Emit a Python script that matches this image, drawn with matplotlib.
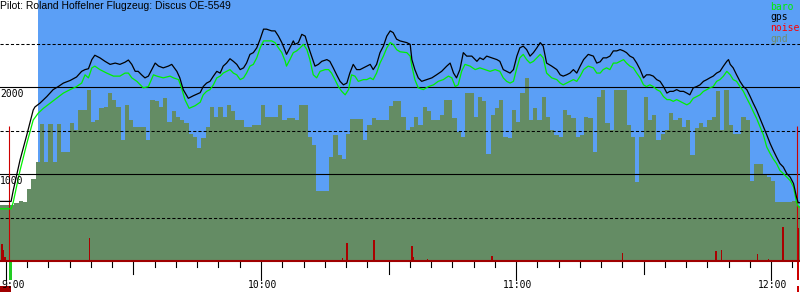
import matplotlib
matplotlib.use("Agg")
import matplotlib.pyplot as plt
import matplotlib.transforms as mtransforms
from matplotlib.patches import Rectangle
import numpy as np

title = "Pilot: Roland Hoffelner Flugzeug: Discus OE-5549"

# all times in minutes after 9:00, altitudes in m
gps_t = [-2, 1.2, 1.7, 3.3, 4.9, 6.4, 6.8, 8.0, 9.6, 11.1, 12.3, 13.5, 15.1, 16.6, 17.8, 18.6, 19.4,
         20.2, 20.9, 22.1, 23.3, 24.5, 25.7, 26.8, 28.0, 28.8, 29.6, 30.4, 31.1, 31.9, 32.7, 33.5,
         34.3, 35.1, 35.9, 37.0, 38.2, 39.0, 40.2, 40.9, 41.7, 42.9, 44.1, 45.7, 46.4, 47.2, 48.0,
         48.8, 49.6, 50.4, 51.1, 51.9, 52.7, 53.5, 54.3, 55.1, 55.9, 56.6, 57.4, 58.2, 59.0, 59.8,
         60.6, 61.3, 62.5, 63.3, 64.1, 64.9, 65.7, 66.0, 66.8, 67.6, 68.0, 68.8, 69.6, 70.4, 71.1,
         71.9, 72.7, 73.5, 74.3, 75.5, 76.2, 77.0, 77.8, 78.6, 79.4, 80.2, 80.9, 81.7, 82.5, 83.3,
         84.1, 84.9, 85.7, 86.4, 87.2, 88.0, 88.8, 89.6, 90.4, 91.1, 91.9, 92.7, 94.3, 95.1, 95.5,
         96.2, 97.0, 97.8, 99.0, 100.2, 101.3, 102.5, 103.7, 104.5, 105.3, 106.0, 106.8, 107.6,
         108.4, 109.6, 110.8, 111.5, 112.3, 113.1, 114.3, 115.5, 116.2, 117.0, 117.8, 118.6, 119.4,
         120.2, 120.9, 121.7, 122.5, 123.3, 124.1, 124.9, 125.7, 126.4, 127.2, 128.4, 129.6, 130.4,
         131.1, 131.9, 132.7, 133.5, 134.3, 135.1, 135.9, 137.0, 138.2, 139.0, 139.8, 140.5, 141.3,
         142.1, 142.9, 143.7, 144.5, 145.3, 146.0, 146.8, 147.6, 148.4, 149.2, 150.0, 150.7, 151.5,
         152.3, 153.1, 153.9, 154.7, 155.5, 156.2, 157.0, 157.8, 158.6, 159.4, 160.2, 160.9, 161.7,
         162.5, 163.3, 164.1, 164.9, 165.6, 166.4, 167.2, 168.0, 168.8, 169.6, 170.0, 170.4, 171.1,
         171.9, 172.7, 173.5, 174.3, 175.1, 175.8, 176.6, 177.4, 178.2, 179.0, 179.8, 180.5, 181.3,
         182.1, 182.9, 183.7, 184.5, 185.3, 186.0, 186.4, 188]
gps_alt = [685, 685, 810, 1160, 1450, 1735, 1770, 1815, 1890, 1970, 2005, 2045, 2075, 2115, 2180, 2200, 2210,
           2315, 2365, 2335, 2295, 2260, 2275, 2260, 2285, 2310, 2260, 2180, 2180, 2140, 2105, 2125,
           2200, 2275, 2240, 2220, 2240, 2260, 2180, 2105, 1970, 1870, 1900, 1935, 2005, 2045, 2065,
           2125, 2180, 2160, 2240, 2275, 2325, 2295, 2260, 2200, 2220, 2275, 2375, 2395, 2450, 2550,
           2665, 2665, 2645, 2645, 2585, 2510, 2415, 2375, 2450, 2530, 2490, 2510, 2605, 2585, 2470,
           2355, 2240, 2260, 2295, 2315, 2295, 2220, 2140, 2065, 2025, 2045, 2160, 2260, 2200, 2200,
           2220, 2240, 2260, 2200, 2260, 2395, 2470, 2585, 2645, 2625, 2550, 2530, 2510, 2490, 2315,
           2200, 2105, 2065, 2085, 2105, 2140, 2180, 2240, 2275, 2160, 2105, 2200, 2395,
           2355, 2355, 2295, 2335, 2315, 2355, 2335, 2315, 2295, 2200, 2180, 2160, 2200,
           2355, 2450, 2470, 2430, 2355, 2395, 2450, 2510, 2470, 2275, 2240, 2200, 2140,
           2125, 2140, 2160, 2200, 2160, 2240, 2315, 2375, 2355, 2275, 2290, 2335, 2335,
           2355, 2415, 2415, 2430, 2415, 2395, 2355, 2335, 2275, 2200, 2105, 2140, 2140,
           2125, 2085, 2065, 2005, 1930, 1950, 1950, 1970, 1950, 1950, 1930, 1910, 1990,
           2005, 2025, 2065, 2085, 2105, 2125, 2160, 2180, 2240, 2295, 2315, 2260, 2220,
           2140, 2065, 2005, 1970, 1890, 1815, 1735, 1640, 1545, 1450, 1350, 1275, 1195,
           1120, 1080, 1005, 965, 890, 735, 670, 670]

baro_t = [-2, 1.2, 1.7, 3.3, 4.9, 6.4, 7.6, 8.8, 10.4, 11.9, 13.5, 15.1, 16.6, 17.8, 18.6, 19.4, 20.2,
          20.9, 22.1, 23.7, 25.3, 26.8, 28.0, 28.8, 29.6, 30.8, 32.3, 33.5, 34.7, 35.5, 37.0, 38.6,
          39.4, 40.6, 41.3, 42.1, 43.1, 44.5, 45.7, 46.4, 47.2, 48.0, 48.8, 49.6, 50.4, 51.1, 51.9,
          52.7, 53.5, 54.3, 55.1, 55.9, 56.6, 57.4, 58.2, 59.0, 59.8, 60.6, 61.3, 62.5, 63.3, 64.1,
          64.9, 65.7, 66.0, 66.8, 67.6, 68.4, 69.2, 70.0, 70.8, 71.5, 72.3, 73.1, 73.9, 75.1, 75.9,
          76.6, 77.4, 78.2, 79.0, 79.8, 80.6, 81.3, 82.1, 82.9, 84.1, 84.9, 85.7, 86.4, 87.2, 88.0,
          88.8, 89.6, 90.4, 91.1, 91.9, 92.7, 94.3, 95.1, 95.5, 96.2, 97.0, 98.2, 99.4, 100.6, 101.7,
          102.9, 104.1, 104.9, 105.7, 106.4, 107.2, 108.0, 109.2, 110.4, 111.5, 112.7, 113.9, 115.1,
          116.2, 117.0, 117.8, 118.6, 119.4, 120.2, 120.9, 121.7, 122.5, 123.3, 124.1, 124.9, 125.7,
          126.4, 127.2, 128.4, 129.6, 130.4, 131.1, 131.9, 132.7, 133.5, 134.3, 135.1, 135.9, 137.0,
          138.2, 139.0, 139.8, 140.5, 141.3, 142.1, 142.9, 143.7, 144.5, 145.3, 146.0, 146.8, 147.6,
          148.4, 149.2, 150.0, 150.7, 151.5, 152.3, 153.1, 153.9, 154.7, 155.5, 156.2, 157.0, 157.8,
          158.6, 159.4, 160.2, 160.9, 161.7, 162.5, 163.3, 164.1, 164.9, 165.6, 166.4, 167.2, 168.0,
          168.8, 169.6, 170.4, 171.1, 171.9, 172.7, 173.5, 174.3, 175.1, 175.8, 176.6, 177.4, 178.2,
          179.0, 179.8, 180.5, 181.3, 182.1, 182.9, 183.7, 184.5, 185.3, 186.0, 186.5, 188]
baro_alt = [600, 600, 675, 1040, 1350, 1620, 1700, 1755, 1815, 1870, 1930, 1970, 2005, 2045, 2140, 2105, 2220,
            2240, 2200, 2160, 2125, 2125, 2160, 2160, 2105, 2065, 1990, 2005, 2140, 2125, 2105, 2125,
            2105, 2085, 1990, 1855, 1755, 1785, 1825, 1910, 1950, 1970, 2025, 2105, 2125, 2160, 2180,
            2200, 2160, 2140, 2085, 2105, 2160, 2240, 2260, 2335, 2450, 2530, 2530, 2530, 2510, 2450,
            2395, 2295, 2240, 2315, 2395, 2415, 2450, 2490, 2430, 2315, 2140, 2105, 2180, 2200, 2200,
            2160, 2085, 2005, 1950, 1910, 1970, 2140, 2125, 2065, 2085, 2085, 2105, 2085, 2160, 2275,
            2355, 2450, 2510, 2490, 2430, 2405, 2395, 2355, 2240, 2085, 1990, 1970, 2005, 2025, 2065,
            2085, 2125, 2105, 2005, 2025, 2180, 2260, 2240, 2200, 2220, 2200, 2180, 2200,
            2180, 2105, 2065, 2045, 2065, 2220, 2335, 2375, 2315, 2275, 2295, 2335, 2375,
            2335, 2160, 2105, 2085, 2045, 2025, 2045, 2065, 2085, 2065, 2125, 2200, 2240,
            2220, 2160, 2160, 2200, 2220, 2200, 2275, 2275, 2295, 2315, 2275, 2240, 2220,
            2160, 2105, 2025, 2005, 2025, 2005, 1970, 1950, 1890, 1855, 1855, 1835, 1855,
            1835, 1815, 1795, 1815, 1870, 1890, 1910, 1950, 1970, 1990, 2005, 2065, 2085,
            2125, 2180, 2140, 2085, 2065, 2005, 1950, 1870, 1795, 1720, 1640, 1545, 1450,
            1310, 1235, 1175, 1120, 1040, 1005, 965, 925, 850, 675, 620, 620]

# ground elevation, one value per minute starting at minute -2
gnd_first_minute = -2
gnd_alt = [645, 645, 645, 645, 665, 695, 675, 830, 945, 1140,
           1575, 1140, 1575, 1140, 1575, 1255, 1255, 1585, 1505, 1735,
           1735, 1970, 1600, 1620, 1755, 1775, 1930, 1855, 1775, 1390,
           1795, 1620, 1545, 1545, 1545, 1390, 1855, 1835, 1775, 1870,
           1600, 1720, 1660, 1620, 1585, 1465, 1430, 1295, 1410, 1545,
           1775, 1660, 1775, 1660, 1795, 1720, 1620, 1620, 1545, 1545,
           1565, 1565, 1795, 1660, 1660, 1660, 1795, 1620, 1640, 1640,
           1620, 1795, 1795, 1430, 1330, 805, 805, 805, 1195, 1450,
           1215, 1175, 1465, 1630, 1630, 1630, 1390, 1565, 1640, 1620,
           1620, 1620, 1785, 1835, 1835, 1660, 1505, 1545, 1660, 1565,
           1775, 1720, 1620, 1620, 1680, 1855, 1855, 1640, 1485, 1430,
           1930, 1930, 1660, 1890, 1835, 1235, 1680, 1755, 1855, 1430,
           1410, 1735, 1600, 1930, 2105, 1620, 1755, 1620, 1890, 1660,
           1505, 1450, 1430, 1735, 1680, 1640, 1430, 1450, 1660, 1640,
           1255, 1890, 1970, 1585, 1505, 1970, 1970, 1970, 1565, 1430,
           905, 1430, 1890, 1620, 1680, 1390, 1465, 1505, 1700, 1620,
           1640, 1545, 1620, 1215, 1525, 1585, 1545, 1620, 1660, 1950,
           1505, 1970, 1565, 1465, 1465, 1660, 1620, 925, 1120, 1120,
           1005, 965, 925, 675, 675, 675, 675, 695, 635, 635]

noise_t = [-0.9, -0.6, -0.2, 19.6, 79.2, 80.2, 86.6, 95.5, 95.8, 99.2, 114.3, 145.1, 153.5,
           167.0, 168.4, 176.8, 179.4, 182.8, 186.4]
noise_val = [200, 125, 45, 270, 40, 210, 245, 175, 45, 25, 60, 95, 15, 115, 125, 85, 25, 395, 375]

takeoff_t = 0.7
landing_t = 186.2
marker_top = 1550
sky_start = 7.5
hour_labels = ["9:00", "10:00", "11:00", "12:00"]
legend_names = ["baro", "gps", "noise", "gnd"]

SKY = "#5b9ff6"
GND = "#648c64"
BARO = "#00f000"
NOISE = "#aa0000"
AXRED = "#a00000"
legend_colors = ["#00ee00", "black", "#ff0000", "#6f8f6f"]

W, H = 800, 300
x0, x1 = -1.41, 186.82

fig = plt.figure(figsize=(8, 3), dpi=100)
ax = fig.add_axes([0, 39 / H, 1, 261 / H])
ax.set_xlim(x0, x1)
ax.set_ylim(0, 3000)
for s in ax.spines.values():
    s.set_visible(False)
ax.set_xticks([])
ax.set_yticks([])

ax.axvspan(sky_start, x1 + 5, color=SKY, lw=0, zorder=0)

gnd_t = gnd_first_minute + np.arange(len(gnd_alt))
ax.fill_between(gnd_t, gnd_alt, step="post", color=GND, lw=0, zorder=1)

for v in [500, 1500, 2500]:
    ax.axhline(v, color="black", lw=0.75, ls=(0, (3, 2)), zorder=2)
for v in [1000, 2000]:
    ax.axhline(v, color="black", lw=0.8, zorder=2)

ax.bar(noise_t, noise_val, width=0.35, color=NOISE, lw=0, zorder=3)
ax.vlines([takeoff_t, landing_t], 0, marker_top, color="#cc0000", lw=0.8, zorder=3)

ax.plot(baro_t, baro_alt, color=BARO, lw=0.9, zorder=4)
ax.plot(gps_t, gps_alt, color="black", lw=0.9, zorder=5)

ax.axhline(0, color=AXRED, lw=1.5, clip_on=False, zorder=6)

# time ticks below the axis
trans = mtransforms.blended_transform_factory(ax.transData, fig.transFigure)
for m in range(0, 186, 5):
    length = 18 if m % 60 == 0 else (12 if m % 30 == 0 else 5)
    ax.plot([m, m], [(H - 262) / H, (H - 262 - length) / H], transform=trans,
            color="black", lw=0.8, clip_on=False)

# takeoff / landing markers under the axis
ax.add_patch(Rectangle((takeoff_t, (H - 280) / H), 0.7, 18 / H, transform=trans,
                       color="#22cc22", lw=0, clip_on=False))
ax.add_patch(Rectangle((x0, (H - 292) / H), 2.6, 6 / H, transform=trans,
                       color=AXRED, lw=0, clip_on=False, zorder=1))
ax.add_patch(Rectangle((landing_t, (H - 280) / H), 0.35, 18 / H, transform=trans,
                       color="#cc0000", lw=0, clip_on=False))
ax.add_patch(Rectangle((landing_t, (H - 292) / H), 0.35, 6 / H, transform=trans,
                       color="#cc0000", lw=0, clip_on=False))

mono = "DejaVu Sans Mono"
for i, lab in enumerate(hour_labels):
    if i == 0:
        # first label would run off the left edge, keep it inside
        ax.text(1 / W, (H - 280) / H, lab, transform=fig.transFigure, ha="left", va="top",
                fontsize=7, family=mono, zorder=7)
        continue
    ax.text(i * 60 + 0.3, (H - 280) / H, lab, transform=trans, ha="center", va="top",
            fontsize=7, family=mono, zorder=7)

ytrans = mtransforms.blended_transform_factory(fig.transFigure, ax.transData)
for v in [1000, 2000]:
    ax.text(0, v - 20, str(v), transform=ytrans, ha="left", va="top",
            fontsize=7, family=mono, zorder=7)

for i, (name, col) in enumerate(zip(legend_names, legend_colors)):
    fig.text(770 / W, 1 - (2 + 10.5 * i) / H, name, color=col, ha="left", va="top",
             fontsize=7, family=mono)

fig.text(0, 1 - 1 / H, title, ha="left", va="top", fontsize=7.5, family="Liberation Sans")

fig.savefig("out.png", dpi=100)
